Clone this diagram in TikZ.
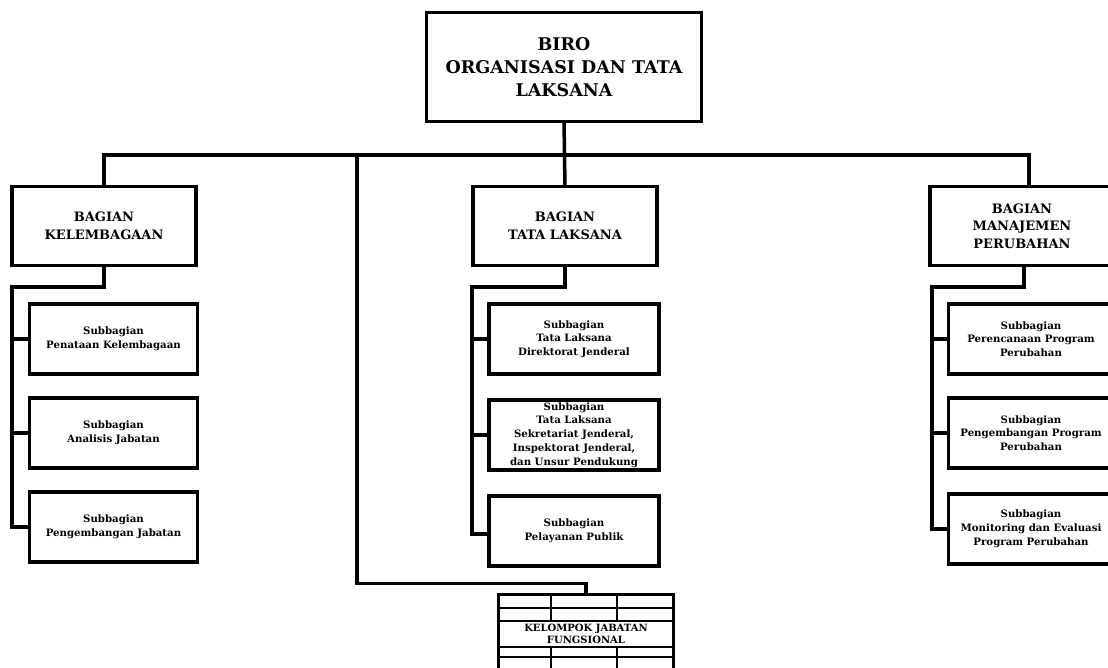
\documentclass[tikz,border=0pt]{standalone}
\usepackage{fontspec}
\setmainfont{DejaVu Serif}
\usetikzlibrary{positioning}

\tikzset{
  unit/.style={draw, line width=3.5pt, align=center, inner sep=0pt, outer sep=0pt},
  birobox/.style={unit, minimum width=275, minimum height=109,
    font=\fontsize{17.5}{23}\selectfont\bfseries},
  bagianbox/.style={unit, minimum width=184, minimum height=79,
    font=\fontsize{13}{17.5}\selectfont\bfseries},
  subbox/.style={unit, minimum height=70,
    font=\fontsize{10.2}{13.8}\selectfont\bfseries},
  link/.style={line width=3.5pt},
  grid/.style={line width=2.8pt}
}

\begin{document}
\begin{tikzpicture}[x=1pt, y=-1pt]
    \useasboundingbox (0,0) rectangle (1108,667);

    % Biro
    \node[birobox] (biro) at (564,67) {BIRO\\ORGANISASI DAN TATA\\LAKSANA};

    % Bagian
    \node[bagianbox] (kel) at (104,226) {BAGIAN\\KELEMBAGAAN};
    \node[bagianbox] (tl)  at (565,226) {BAGIAN\\TATA LAKSANA};
    \node[bagianbox] (mp)  at (1022,226) {BAGIAN\\MANAJEMEN\\PERUBAHAN};

    % Subbagian Kelembagaan
    \node[subbox, minimum width=168] (kel1) at (113.5,339) {Subbagian\\Penataan Kelembagaan};
    \node[subbox, minimum width=168] (kel2) at (113.5,433) {Subbagian\\Analisis Jabatan};
    \node[subbox, minimum width=168] (kel3) at (113.5,527) {Subbagian\\Pengembangan Jabatan};

    % Subbagian Tata Laksana
    \node[subbox, minimum width=170] (tl1) at (574,339) {Subbagian\\Tata Laksana\\Direktorat Jenderal};
    \node[subbox, minimum width=170] (tl2) at (574,435) {Subbagian\\Tata Laksana\\Sekretariat Jenderal,\\Inspektorat Jenderal,\\dan Unsur Pendukung};
    \node[subbox, minimum width=170] (tl3) at (574,531) {Subbagian\\Pelayanan Publik};

    % Subbagian Manajemen Perubahan
    \node[subbox, minimum width=165] (mp1) at (1031,339) {Subbagian\\Perencanaan Program\\Perubahan};
    \node[subbox, minimum width=165] (mp2) at (1031,433) {Subbagian\\Pengembangan Program\\Perubahan};
    \node[subbox, minimum width=165] (mp3) at (1031,529) {Subbagian\\Monitoring dan Evaluasi\\Program Perubahan};

    % Kelompok Jabatan Fungsional
    \node[unit, minimum width=175, minimum height=100, anchor=north] (kjf) at (586,594.5) {};
    \draw[grid] (kjf.west |- 0,608) -- (kjf.east |- 0,608);
    \draw[grid] (kjf.west |- 0,621) -- (kjf.east |- 0,621);
    \draw[grid] (kjf.west |- 0,647) -- (kjf.east |- 0,647);
    \draw[grid] (kjf.west |- 0,657) -- (kjf.east |- 0,657);
    \draw[grid] (551,594) -- (551,621) (617,594) -- (617,621);
    \draw[grid] (551,647) -- (551,680) (617,647) -- (617,680);
    \node[font=\fontsize{10}{12}\selectfont\bfseries, align=center] (kjftext) at (586,634)
      {KELOMPOK JABATAN\\FUNGSIONAL};

    % Bus lines
    \coordinate (bus) at (0,155);
    \coordinate (kelbus) at (12,287);
    \coordinate (tlbus) at (472,287);
    \coordinate (mpbus) at (932,287);
    \coordinate (fjbus) at (357,155);

    \draw[link] (biro.south) -- (tl.north);
    \draw[link] (kel.north) |- ([xshift=7pt]mp.north |- bus) -- ([xshift=7pt]mp.north);
    \draw[link] (fjbus) |- ([yshift=11pt]kjf.north) -- (kjf.north);

    \draw[link] (kel.south) |- (kelbus) |- (kel3.west);
    \draw[link] (kelbus |- kel1.west) -- (kel1.west);
    \draw[link] (kelbus |- kel2.west) -- (kel2.west);

    \draw[link] (tl.south) |- (tlbus) |- ([yshift=-3pt]tl3.west);
    \draw[link] (tlbus |- tl1.west) -- (tl1.west);
    \draw[link] (tlbus |- tl2.west) -- (tl2.west);

    \draw[link] ([xshift=2pt]mp.south) |- (mpbus) |- (mp3.west);
    \draw[link] (mpbus |- mp1.west) -- (mp1.west);
    \draw[link] (mpbus |- mp2.west) -- (mp2.west);
\end{tikzpicture}
\end{document}
